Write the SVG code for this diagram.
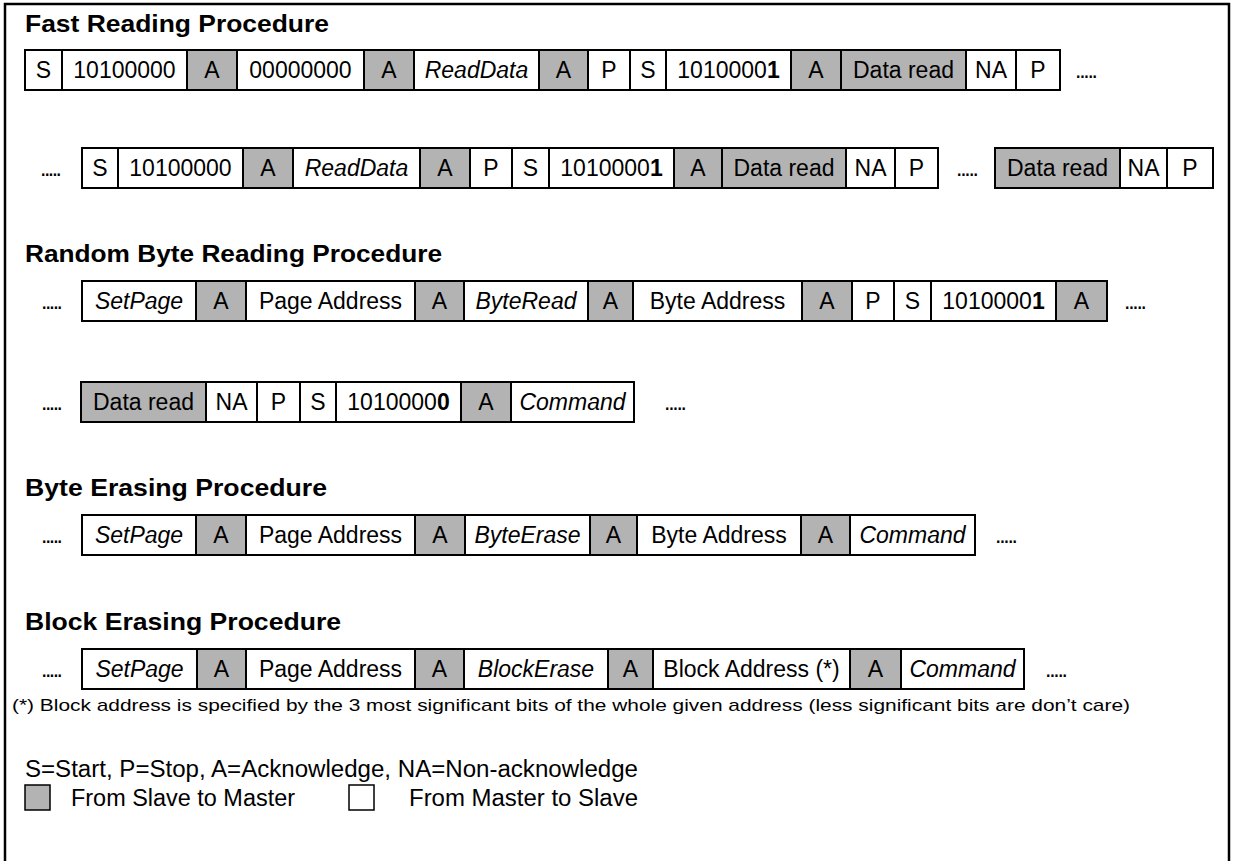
<svg xmlns="http://www.w3.org/2000/svg" width="1239" height="861" viewBox="0 0 1239 861">
<style>
.frame{fill:none;stroke:#000;stroke-width:2.5}
.w{fill:#fff;stroke:#000;stroke-width:2}
.g{fill:#b3b3b3;stroke:#000;stroke-width:2}
text{font-family:"Liberation Sans",Arial,Helvetica,sans-serif;fill:#000}
.t{font-size:23px;text-anchor:middle}
.i{font-style:italic}
.h{font-size:24px;font-weight:bold}
.d{font-size:23px}
.f{font-size:17px}
.l{font-size:23px}
</style>
<rect class="frame" x="5" y="4" width="1224" height="900"/>

<g id="title1"><text class="h" x="25" y="32" textLength="304" lengthAdjust="spacingAndGlyphs">Fast Reading Procedure</text></g>
<g id="row1">
<g id="r1-1"><rect class="w" x="25" y="50" width="37" height="40"/><text class="t" x="43.5" y="78">S</text></g>
<g id="r1-2"><rect class="w" x="62" y="50" width="125" height="40"/><text class="t" x="124.5" y="78">10100000</text></g>
<g id="r1-3"><rect class="g" x="187" y="50" width="50" height="40"/><text class="t" x="212" y="78">A</text></g>
<g id="r1-4"><rect class="w" x="237" y="50" width="127" height="40"/><text class="t" x="300.5" y="78">00000000</text></g>
<g id="r1-5"><rect class="g" x="364" y="50" width="50" height="40"/><text class="t" x="389" y="78">A</text></g>
<g id="r1-6"><rect class="w" x="414" y="50" width="125" height="40"/><text class="t i" x="476.5" y="78">ReadData</text></g>
<g id="r1-7"><rect class="g" x="539" y="50" width="49" height="40"/><text class="t" x="563.5" y="78">A</text></g>
<g id="r1-8"><rect class="w" x="588" y="50" width="42" height="40"/><text class="t" x="609" y="78">P</text></g>
<g id="r1-9"><rect class="w" x="630" y="50" width="36" height="40"/><text class="t" x="648" y="78">S</text></g>
<g id="r1-10"><rect class="w" x="666" y="50" width="125" height="40"/><text class="t" x="728.5" y="78">1010000<tspan font-weight="bold">1</tspan></text></g>
<g id="r1-11"><rect class="g" x="791" y="50" width="50" height="40"/><text class="t" x="816" y="78">A</text></g>
<g id="r1-12"><rect class="g" x="841" y="50" width="125" height="40"/><text class="t" x="903.5" y="78">Data read</text></g>
<g id="r1-13"><rect class="w" x="966" y="50" width="50" height="40"/><text class="t" x="991" y="78">NA</text></g>
<g id="r1-14"><rect class="w" x="1016" y="50" width="44" height="40"/><text class="t" x="1038" y="78">P</text></g>
<text class="d" x="1075" y="78" textLength="23" lengthAdjust="spacing">.....</text>
</g>

<g id="row2">
<text class="d" x="40" y="176" textLength="22" lengthAdjust="spacing">.....</text>
<g id="r2-1"><rect class="w" x="82" y="148" width="36" height="40"/><text class="t" x="100" y="176">S</text></g>
<g id="r2-2"><rect class="w" x="118" y="148" width="125" height="40"/><text class="t" x="180.5" y="176">10100000</text></g>
<g id="r2-3"><rect class="g" x="243" y="148" width="50" height="40"/><text class="t" x="268" y="176">A</text></g>
<g id="r2-4"><rect class="w" x="293" y="148" width="127" height="40"/><text class="t i" x="356.5" y="176">ReadData</text></g>
<g id="r2-5"><rect class="g" x="420" y="148" width="50" height="40"/><text class="t" x="445" y="176">A</text></g>
<g id="r2-6"><rect class="w" x="470" y="148" width="42" height="40"/><text class="t" x="491" y="176">P</text></g>
<g id="r2-7"><rect class="w" x="512" y="148" width="37" height="40"/><text class="t" x="530.5" y="176">S</text></g>
<g id="r2-8"><rect class="w" x="549" y="148" width="125" height="40"/><text class="t" x="611.5" y="176">1010000<tspan font-weight="bold">1</tspan></text></g>
<g id="r2-9"><rect class="g" x="674" y="148" width="48" height="40"/><text class="t" x="698" y="176">A</text></g>
<g id="r2-10"><rect class="g" x="722" y="148" width="124" height="40"/><text class="t" x="784" y="176">Data read</text></g>
<g id="r2-11"><rect class="w" x="846" y="148" width="49" height="40"/><text class="t" x="870.5" y="176">NA</text></g>
<g id="r2-12"><rect class="w" x="895" y="148" width="43" height="40"/><text class="t" x="916.5" y="176">P</text></g>
<text class="d" x="956" y="176" textLength="23" lengthAdjust="spacing">.....</text>
<g id="r2-13"><rect class="g" x="995" y="148" width="125" height="40"/><text class="t" x="1057.5" y="176">Data read</text></g>
<g id="r2-14"><rect class="w" x="1120" y="148" width="47" height="40"/><text class="t" x="1143.5" y="176">NA</text></g>
<g id="r2-15"><rect class="w" x="1167" y="148" width="46" height="40"/><text class="t" x="1190" y="176">P</text></g>
</g>

<g id="title2"><text class="h" x="25" y="262" textLength="417" lengthAdjust="spacingAndGlyphs">Random Byte Reading Procedure</text></g>
<g id="row3">
<text class="d" x="41" y="309" textLength="22" lengthAdjust="spacing">.....</text>
<g id="r3-1"><rect class="w" x="82" y="281" width="114" height="40"/><text class="t i" x="139" y="309">SetPage</text></g>
<g id="r3-2"><rect class="g" x="196" y="281" width="50" height="40"/><text class="t" x="221" y="309">A</text></g>
<g id="r3-3"><rect class="w" x="246" y="281" width="169" height="40"/><text class="t" x="330.5" y="309">Page Address</text></g>
<g id="r3-4"><rect class="g" x="415" y="281" width="49" height="40"/><text class="t" x="439.5" y="309">A</text></g>
<g id="r3-5"><rect class="w" x="464" y="281" width="124" height="40"/><text class="t i" x="526" y="309">ByteRead</text></g>
<g id="r3-6"><rect class="g" x="588" y="281" width="45" height="40"/><text class="t" x="610.5" y="309">A</text></g>
<g id="r3-7"><rect class="w" x="633" y="281" width="169" height="40"/><text class="t" x="717.5" y="309">Byte Address</text></g>
<g id="r3-8"><rect class="g" x="802" y="281" width="50" height="40"/><text class="t" x="827" y="309">A</text></g>
<g id="r3-9"><rect class="w" x="852" y="281" width="42" height="40"/><text class="t" x="873" y="309">P</text></g>
<g id="r3-10"><rect class="w" x="894" y="281" width="37" height="40"/><text class="t" x="912.5" y="309">S</text></g>
<g id="r3-11"><rect class="w" x="931" y="281" width="125" height="40"/><text class="t" x="993.5" y="309">1010000<tspan font-weight="bold">1</tspan></text></g>
<g id="r3-12"><rect class="g" x="1056" y="281" width="51" height="40"/><text class="t" x="1081.5" y="309">A</text></g>
<text class="d" x="1124" y="309" textLength="23" lengthAdjust="spacing">.....</text>
</g>

<g id="row4">
<text class="d" x="41" y="410" textLength="22" lengthAdjust="spacing">.....</text>
<g id="r4-1"><rect class="g" x="81" y="382" width="125" height="40"/><text class="t" x="143.5" y="410">Data read</text></g>
<g id="r4-2"><rect class="w" x="206" y="382" width="51" height="40"/><text class="t" x="231.5" y="410">NA</text></g>
<g id="r4-3"><rect class="w" x="257" y="382" width="43" height="40"/><text class="t" x="278.5" y="410">P</text></g>
<g id="r4-4"><rect class="w" x="300" y="382" width="36" height="40"/><text class="t" x="318" y="410">S</text></g>
<g id="r4-5"><rect class="w" x="336" y="382" width="125" height="40"/><text class="t" x="398.5" y="410">1010000<tspan font-weight="bold">0</tspan></text></g>
<g id="r4-6"><rect class="g" x="461" y="382" width="50" height="40"/><text class="t" x="486" y="410">A</text></g>
<g id="r4-7"><rect class="w" x="511" y="382" width="123" height="40"/><text class="t i" x="572.5" y="410">Command</text></g>
<text class="d" x="664" y="410" textLength="23" lengthAdjust="spacing">.....</text>
</g>

<g id="title3"><text class="h" x="25" y="496" textLength="302" lengthAdjust="spacingAndGlyphs">Byte Erasing Procedure</text></g>
<g id="row5">
<text class="d" x="41" y="543" textLength="22" lengthAdjust="spacing">.....</text>
<g id="r5-1"><rect class="w" x="82" y="515" width="114" height="40"/><text class="t i" x="139" y="543">SetPage</text></g>
<g id="r5-2"><rect class="g" x="196" y="515" width="50" height="40"/><text class="t" x="221" y="543">A</text></g>
<g id="r5-3"><rect class="w" x="246" y="515" width="169" height="40"/><text class="t" x="330.5" y="543">Page Address</text></g>
<g id="r5-4"><rect class="g" x="415" y="515" width="50" height="40"/><text class="t" x="440" y="543">A</text></g>
<g id="r5-5"><rect class="w" x="465" y="515" width="125" height="40"/><text class="t i" x="527.5" y="543">ByteErase</text></g>
<g id="r5-6"><rect class="g" x="590" y="515" width="47" height="40"/><text class="t" x="613.5" y="543">A</text></g>
<g id="r5-7"><rect class="w" x="637" y="515" width="164" height="40"/><text class="t" x="719" y="543">Byte Address</text></g>
<g id="r5-8"><rect class="g" x="801" y="515" width="49" height="40"/><text class="t" x="825.5" y="543">A</text></g>
<g id="r5-9"><rect class="w" x="850" y="515" width="125" height="40"/><text class="t i" x="912.5" y="543">Command</text></g>
<text class="d" x="995" y="543" textLength="23" lengthAdjust="spacing">.....</text>
</g>

<g id="title4"><text class="h" x="25" y="630" textLength="316" lengthAdjust="spacingAndGlyphs">Block Erasing Procedure</text></g>
<g id="row6">
<text class="d" x="41" y="677" textLength="22" lengthAdjust="spacing">.....</text>
<g id="r6-1"><rect class="w" x="82" y="649" width="115" height="40"/><text class="t i" x="139.5" y="677">SetPage</text></g>
<g id="r6-2"><rect class="g" x="197" y="649" width="49" height="40"/><text class="t" x="221.5" y="677">A</text></g>
<g id="r6-3"><rect class="w" x="246" y="649" width="169" height="40"/><text class="t" x="330.5" y="677">Page Address</text></g>
<g id="r6-4"><rect class="g" x="415" y="649" width="49" height="40"/><text class="t" x="439.5" y="677">A</text></g>
<g id="r6-5"><rect class="w" x="464" y="649" width="144" height="40"/><text class="t i" x="536" y="677">BlockErase</text></g>
<g id="r6-6"><rect class="g" x="608" y="649" width="45" height="40"/><text class="t" x="630.5" y="677">A</text></g>
<g id="r6-7"><rect class="w" x="653" y="649" width="197" height="40"/><text class="t" x="751.5" y="677">Block Address (*)</text></g>
<g id="r6-8"><rect class="g" x="850" y="649" width="51" height="40"/><text class="t" x="875.5" y="677">A</text></g>
<g id="r6-9"><rect class="w" x="901" y="649" width="123" height="40"/><text class="t i" x="962.5" y="677">Command</text></g>
<text class="d" x="1045" y="677" textLength="23" lengthAdjust="spacing">.....</text>
</g>

<g id="footnote"><text class="f" x="12" y="711" textLength="1118" lengthAdjust="spacingAndGlyphs">(*) Block address is specified by the 3 most significant bits of the whole given address (less significant bits are don’t care)</text></g>
<g id="legend">
<text class="l" x="25" y="777" textLength="613" lengthAdjust="spacingAndGlyphs">S=Start, P=Stop, A=Acknowledge, NA=Non-acknowledge</text>
<rect x="25" y="785" width="25" height="25" fill="#b3b3b3" stroke="#000" stroke-width="1.5"/>
<text class="l" x="71" y="806" textLength="224" lengthAdjust="spacingAndGlyphs">From Slave to Master</text>
<rect x="349" y="785" width="25" height="25" fill="#fff" stroke="#000" stroke-width="1.5"/>
<text class="l" x="409" y="806" textLength="229" lengthAdjust="spacingAndGlyphs">From Master to Slave</text>
</g>
</svg>
